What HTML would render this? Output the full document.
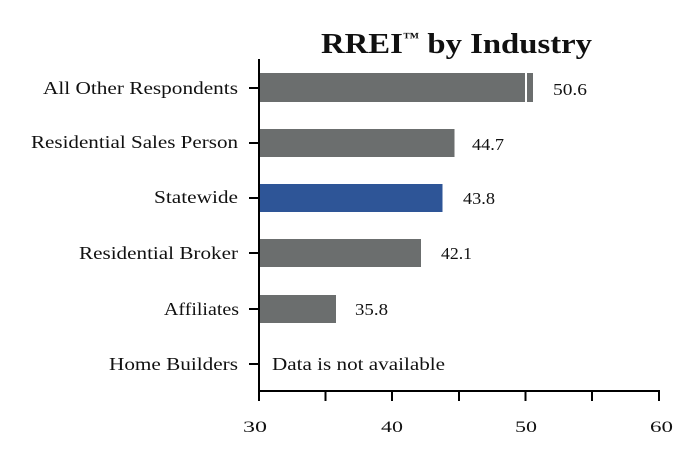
<!DOCTYPE html>
<html>
<head>
<meta charset="utf-8">
<style>
html,body{margin:0;padding:0;background:#fff;}
svg{display:block;}
text{font-family:"Liberation Serif","DejaVu Serif",serif;fill:#111;}
</style>
</head>
<body>
<svg width="700" height="466" viewBox="0 0 700 466" xmlns="http://www.w3.org/2000/svg">
  <rect width="700" height="466" fill="#fff"/>
  <!-- Title -->
  <text x="321" y="53" font-size="28" font-weight="bold" textLength="271" lengthAdjust="spacingAndGlyphs">RREI<tspan font-size="14" dy="-11">™</tspan><tspan dy="11"> by Industry</tspan></text>

  <!-- Bars -->
  <rect x="260" y="73" width="273" height="29" fill="#6b6e6e"/>
  <rect x="525" y="73" width="2" height="29" fill="#fff"/>
  <rect x="260" y="129" width="194.5" height="28" fill="#6b6e6e"/>
  <rect x="260" y="184" width="182.5" height="28" fill="#2e5597"/>
  <rect x="260" y="239" width="161" height="28" fill="#6b6e6e"/>
  <rect x="260" y="295" width="76" height="28" fill="#6b6e6e"/>

  <!-- Axes -->
  <line x1="259" y1="59" x2="259" y2="392" stroke="#000" stroke-width="2"/>
  <line x1="258" y1="391" x2="660" y2="391" stroke="#000" stroke-width="2"/>
  <!-- y ticks -->
  <g stroke="#000" stroke-width="2">
    <line x1="249" y1="88" x2="259" y2="88"/>
    <line x1="249" y1="143" x2="259" y2="143"/>
    <line x1="249" y1="198" x2="259" y2="198"/>
    <line x1="249" y1="253" x2="259" y2="253"/>
    <line x1="249" y1="309" x2="259" y2="309"/>
    <line x1="249" y1="364" x2="259" y2="364"/>
  </g>
  <!-- x ticks -->
  <g stroke="#000" stroke-width="2">
    <line x1="259" y1="391" x2="259" y2="401"/>
    <line x1="325.5" y1="391" x2="325.5" y2="401"/>
    <line x1="392" y1="391" x2="392" y2="401"/>
    <line x1="459" y1="391" x2="459" y2="401"/>
    <line x1="525.5" y1="391" x2="525.5" y2="401"/>
    <line x1="592" y1="391" x2="592" y2="401"/>
    <line x1="659" y1="391" x2="659" y2="401"/>
  </g>

  <!-- x tick labels -->
  <g font-size="15.5">
    <text x="243" y="432" textLength="24" lengthAdjust="spacingAndGlyphs">30</text>
    <text x="381" y="432" textLength="22" lengthAdjust="spacingAndGlyphs">40</text>
    <text x="515" y="432" textLength="22" lengthAdjust="spacingAndGlyphs">50</text>
    <text x="650" y="432" textLength="23" lengthAdjust="spacingAndGlyphs">60</text>
  </g>

  <!-- category labels -->
  <g font-size="17.5" text-anchor="end">
    <text x="238" y="94" textLength="195" lengthAdjust="spacingAndGlyphs">All Other Respondents</text>
    <text x="238" y="148" textLength="207" lengthAdjust="spacingAndGlyphs">Residential Sales Person</text>
    <text x="238" y="203" textLength="84" lengthAdjust="spacingAndGlyphs">Statewide</text>
    <text x="238" y="259" textLength="159" lengthAdjust="spacingAndGlyphs">Residential Broker</text>
    <text x="239" y="315" textLength="75" lengthAdjust="spacingAndGlyphs">Affiliates</text>
    <text x="238" y="370" textLength="129" lengthAdjust="spacingAndGlyphs">Home Builders</text>
  </g>

  <!-- value labels -->
  <g font-size="16.5">
    <text x="553" y="95" textLength="34" lengthAdjust="spacingAndGlyphs">50.6</text>
    <text x="472" y="150" textLength="32" lengthAdjust="spacingAndGlyphs">44.7</text>
    <text x="463" y="204" textLength="32" lengthAdjust="spacingAndGlyphs">43.8</text>
    <text x="441" y="259" textLength="31" lengthAdjust="spacingAndGlyphs">42.1</text>
    <text x="355" y="315" textLength="33" lengthAdjust="spacingAndGlyphs">35.8</text>
  </g>

  <text x="272" y="370" font-size="17.5" textLength="173" lengthAdjust="spacingAndGlyphs">Data is not available</text>
</svg>
</body>
</html>
